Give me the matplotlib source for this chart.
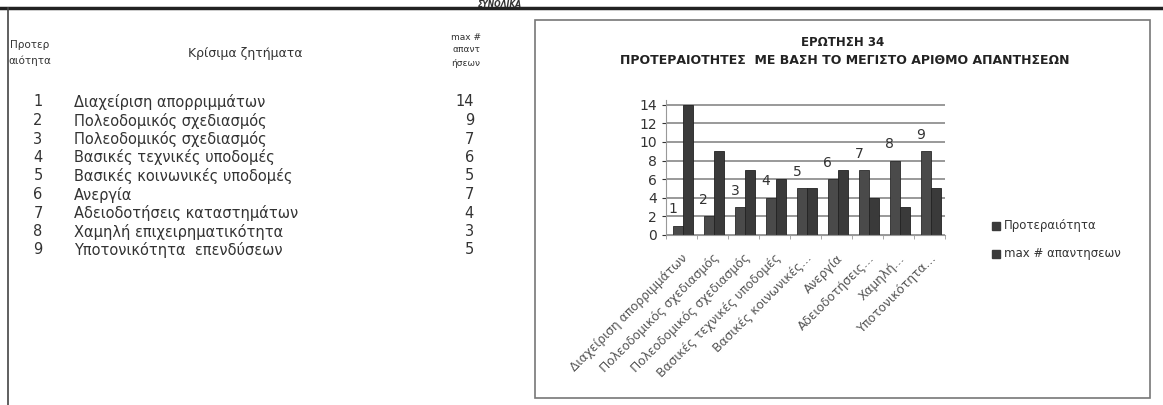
import numpy as np
import matplotlib
matplotlib.use("Agg")
import matplotlib.pyplot as plt
from matplotlib.lines import Line2D
from matplotlib.patches import Rectangle

# data
priority = [1, 2, 3, 4, 5, 6, 7, 8, 9]
max_answers = [14, 9, 7, 6, 5, 7, 4, 3, 5]
issues = ["Διαχείριση απορριμμάτων", "Πολεοδομικός σχεδιασμός",
          "Πολεοδομικός σχεδιασμός", "Βασικές τεχνικές υποδομές",
          "Βασικές κοινωνικές υποδομές", "Ανεργία",
          "Αδειοδοτήσεις καταστημάτων", "Χαμηλή επιχειρηματικότητα",
          "Υποτονικότητα  επενδύσεων"]
tick_labels = ["Διαχείριση απορριμμάτων", "Πολεοδομικός σχεδιασμός",
               "Πολεοδομικός σχεδιασμός", "Βασικές τεχνικές υποδομές",
               "Βασικές κοινωνικές…", "Ανεργία", "Αδειοδοτήσεις…",
               "Χαμηλή…", "Υποτονικότητα…"]
series_names = ["Προτεραιότητα", "max # απαντησεων"]

plt.rcParams['font.family'] = ['DejaVu Sans']

W, H = 1163, 405
fig = plt.figure(figsize=(W / 100, H / 100), dpi=100)

def px(x, y):
    return x / W, 1 - y / H

# page lines / boxes
fig.add_artist(Line2D([0, 1], [px(0, 8)[1]] * 2, color="#222222", lw=2.5))
fig.add_artist(Line2D([px(8, 0)[0]] * 2, [px(0, 8)[1], 0], color="#444444", lw=1.2))
x0, y0 = px(535, 398)
x1, y1 = px(1150, 20)
fig.add_artist(Rectangle((x0, y0), x1 - x0, y1 - y0, fill=False,
                         edgecolor="#777777", lw=1.2))
fig.text(*px(500, 0), "ΣΥΝΟΛΙΚΑ", fontsize=5.5, style="italic", weight="bold",
         ha="center", va="top", color="#333333")

# table
tc = "#333333"
fig.text(*px(30, 45), "Προτερ", fontsize=7.5, ha="center", va="center", color=tc)
fig.text(*px(30, 61), "αιότητα", fontsize=7.5, ha="center", va="center", color=tc)
fig.text(*px(245, 53), "Κρίσιμα ζητήματα", fontsize=9, ha="center", va="center", color=tc)
for i, t in enumerate(["max #", "απαντ", "ήσεων"]):
    fig.text(*px(466, 37 + i * 13), t, fontsize=6.5, ha="center", va="center", color=tc)
for i, (p, name, v) in enumerate(zip(priority, issues, max_answers)):
    y = 102 + i * 18.5
    fig.text(*px(38, y), str(p), fontsize=10.5, ha="center", va="center", color=tc)
    fig.text(*px(74, y), name, fontsize=10.5, ha="left", va="center", color=tc)
    fig.text(*px(474, y), str(v), fontsize=10.5, ha="right", va="center", color=tc)

# chart
fig.text(*px(843, 42), "ΕΡΩΤΗΣΗ 34", fontsize=8.5, weight="bold",
         ha="center", va="center", color="#222222")
fig.text(*px(845, 60), "ΠΡΟΤΕΡΑΙΟΤΗΤΕΣ  ΜΕ ΒΑΣΗ ΤΟ ΜΕΓΙΣΤΟ ΑΡΙΘΜΟ ΑΠΑΝΤΗΣΕΩΝ",
         fontsize=9, weight="bold", ha="center", va="center", color="#222222")

l, b = px(666, 235)
r, t = px(945, 100)
ax = fig.add_axes([l, b, r - l, t - b])
x = np.arange(len(priority))
w = 0.32
ax.bar(x - 0.1, priority, w, color="#4a4a4a", edgecolor="#2a2a2a", lw=0.6)
ax.bar(x + 0.22, max_answers, w, color="#3a3a3a", edgecolor="#222222", lw=0.6)
for xi, p in zip(x, priority):
    ax.text(xi - 0.28, p + 1.0, str(p), fontsize=10, ha="center", va="bottom", color="#333333")

ax.set_xlim(-0.5, len(x) - 0.5)
ax.set_ylim(0, 14.5)
ax.set_yticks(range(0, 15, 2))
ax.tick_params(axis="y", labelsize=10, colors="#333333", length=3)
ax.yaxis.grid(True, color="#888888", lw=1.2)
ax.set_axisbelow(True)
ax.set_xticks(x)
ax.set_xticklabels(tick_labels, rotation=45, ha="right", rotation_mode="anchor",
                   fontsize=8.8, color="#555555")
ax.tick_params(axis="x", length=0, pad=12)
ax.set_xticks(np.arange(len(x) + 1) - 0.5, minor=True)
ax.tick_params(axis="x", which="minor", length=3, color="#999999")
for s in ["top", "right"]:
    ax.spines[s].set_visible(False)
ax.spines["left"].set_color("#999999")
ax.spines["bottom"].set_color("#999999")

# legend
for i, name in enumerate(series_names):
    lx, ly = px(992, 226 + i * 28)
    fig.add_artist(Rectangle((lx, ly - 4 / H), 8 / W, 8 / H, color="#3a3a3a"))
    fig.text(lx + 12 / W, ly, name, fontsize=8.5, ha="left", va="center", color="#333333")

fig.savefig("out.png", dpi=100)
